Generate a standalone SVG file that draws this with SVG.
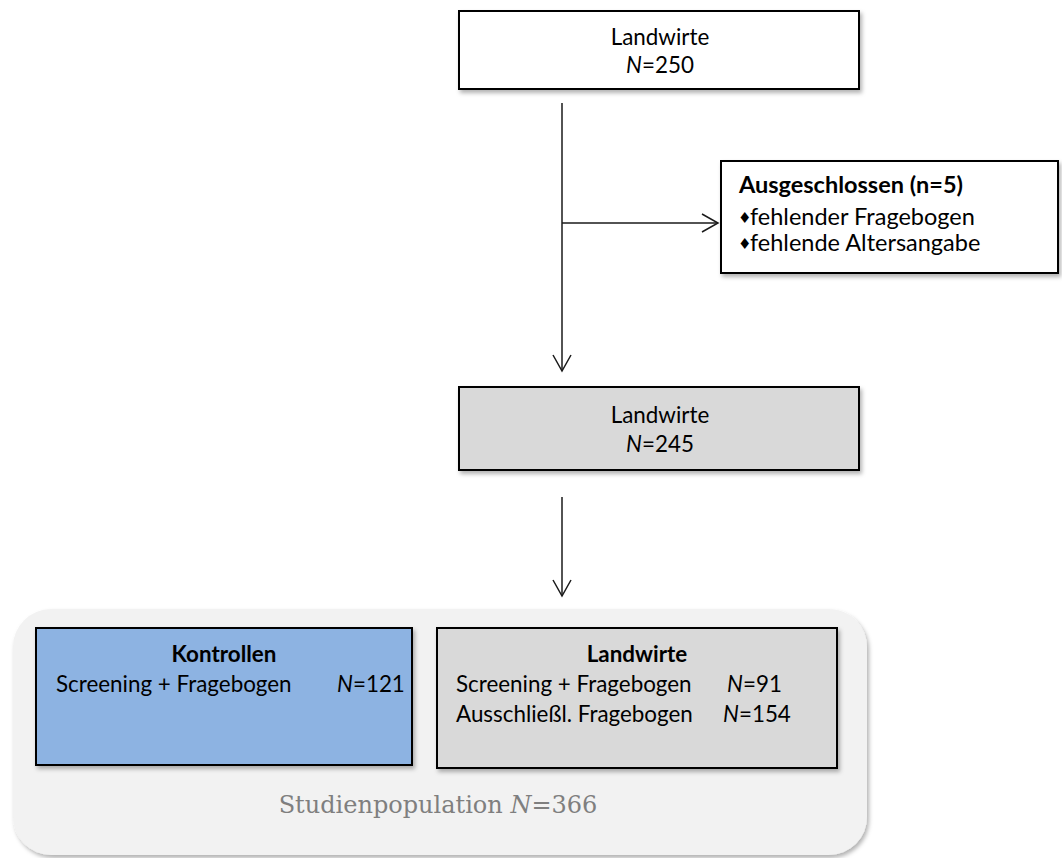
<svg xmlns="http://www.w3.org/2000/svg" width="1062" height="858" viewBox="0 0 1062 858">
<style>
.t{font-family:Lato,"Liberation Sans",sans-serif;font-size:22.4px;fill:#000}
.x{font-size:23.5px}
.b{font-weight:bold}
.d{font-family:"DejaVu Sans",sans-serif;font-size:15px;fill:#000}
.box{stroke:#000;stroke-width:2}
.ln{stroke:#1a1a1a;stroke-width:1.5;fill:none}
</style>
<defs>
<filter id="sh" x="-5%" y="-10%" width="115%" height="130%">
<feDropShadow dx="2" dy="3" stdDeviation="2" flood-color="#000" flood-opacity="0.3"/>
</filter>
<marker id="ar" viewBox="0 0 20 20" refX="18" refY="10" markerWidth="20" markerHeight="20" markerUnits="userSpaceOnUse" orient="auto">
<path d="M2,1 L18,10 L2,19" fill="none" stroke="#1a1a1a" stroke-width="1.5"/>
</marker>
</defs>
<rect width="1062" height="858" fill="#fff"/>
<g id="container">
<rect x="13" y="609" width="854" height="246" rx="38" fill="#f2f2f2" filter="url(#sh)"/>
<text x="438" y="813" text-anchor="middle" style="font-family:'DejaVu Serif',serif;font-size:24px;fill:#7f7f7f">Studienpopulation <tspan font-style="italic">N</tspan>=366</text>
</g>
<g id="connectors">
<line class="ln" x1="562" y1="103" x2="562" y2="371" marker-end="url(#ar)"/>
<line class="ln" x1="562" y1="223" x2="718" y2="223" marker-end="url(#ar)"/>
<line class="ln" x1="562" y1="497" x2="562" y2="596" marker-end="url(#ar)"/>
</g>
<g id="n1">
<rect class="box" x="459" y="11" width="400" height="78" fill="#fff" filter="url(#sh)"/>
<text class="t" x="660" y="45" text-anchor="middle">Landwirte</text>
<text class="t" x="660" y="73" text-anchor="middle"><tspan font-style="italic">N</tspan>=250</text>
</g>
<g id="excluded">
<rect class="box" x="721" y="161" width="337" height="112" fill="#fff" filter="url(#sh)"/>
<text class="t x b" x="739" y="193">Ausgeschlossen (n=5)</text>
<text class="d" x="738" y="223">♦</text>
<text class="t x" x="750" y="225">fehlender Fragebogen</text>
<text class="d" x="738" y="249">♦</text>
<text class="t x" x="750" y="251">fehlende Altersangabe</text>
</g>
<g id="n2">
<rect class="box" x="459" y="387" width="400" height="83" fill="#d9d9d9" filter="url(#sh)"/>
<text class="t" x="660" y="423" text-anchor="middle">Landwirte</text>
<text class="t" x="660" y="452" text-anchor="middle"><tspan font-style="italic">N</tspan>=245</text>
</g>
<g id="kontrollen">
<rect class="box" x="36" y="628" width="376" height="137" fill="#8db3e2" filter="url(#sh)"/>
<text class="t b" x="224" y="662" text-anchor="middle">Kontrollen</text>
<text class="t" x="56" y="692">Screening + Fragebogen</text>
<text class="t" x="337" y="692"><tspan font-style="italic">N</tspan>=121</text>
</g>
<g id="landwirte">
<rect class="box" x="437" y="628" width="400" height="140" fill="#d9d9d9" filter="url(#sh)"/>
<text class="t b" x="637" y="662" text-anchor="middle">Landwirte</text>
<text class="t" x="456" y="692">Screening + Fragebogen</text>
<text class="t" x="727" y="692"><tspan font-style="italic">N</tspan>=91</text>
<text class="t" x="456" y="722">Ausschließl. Fragebogen</text>
<text class="t" x="723" y="722"><tspan font-style="italic">N</tspan>=154</text>
</g>
</svg>
